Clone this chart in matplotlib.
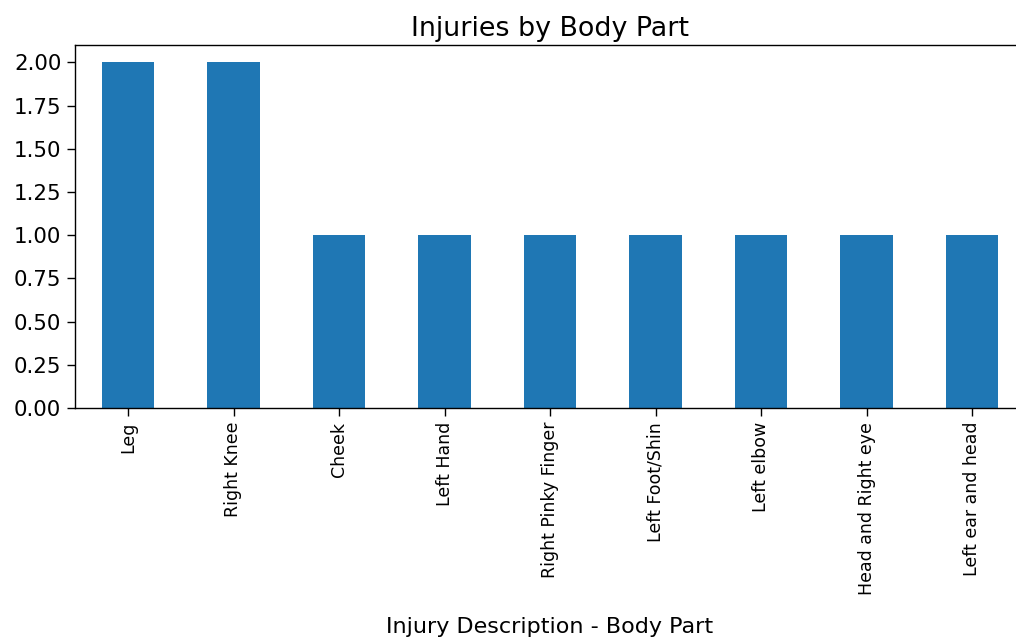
import matplotlib
matplotlib.use("Agg")
import matplotlib.pyplot as plt
from matplotlib.ticker import MultipleLocator, FormatStrFormatter
import pandas as pd

categories = ["Leg", "Right Knee", "Cheek", "Left Hand", "Right Pinky Finger",
              "Left Foot/Shin", "Left elbow", "Head and Right eye", "Left ear and head"]
counts = [2, 2, 1, 1, 1, 1, 1, 1, 1]

dpi = 125
fig = plt.figure(figsize=(1016 / dpi, 641 / dpi), dpi=dpi)
ax = fig.add_axes([75.25 / 1016, 1 - 408 / 641, 949.5 / 1016, (408 - 45) / 641])
s = pd.Series(counts, index=pd.Index(categories, name="Injury Description - Body Part"))
s.plot(kind="bar", ax=ax, color="#1f77b4")
ax.yaxis.set_major_locator(MultipleLocator(0.25))
ax.yaxis.set_major_formatter(FormatStrFormatter("%.2f"))
ax.spines["right"].set_visible(False)
ax.set_title("Injuries by Body Part", fontsize=15.5, pad=5)
ax.set_xlabel("Injury Description - Body Part", fontsize=12.8, labelpad=13)
ax.tick_params(axis="y", labelsize=12.3, length=4.5)
ax.tick_params(axis="x", labelsize=10, length=4.5)
fig.savefig("out.png", dpi=dpi)
